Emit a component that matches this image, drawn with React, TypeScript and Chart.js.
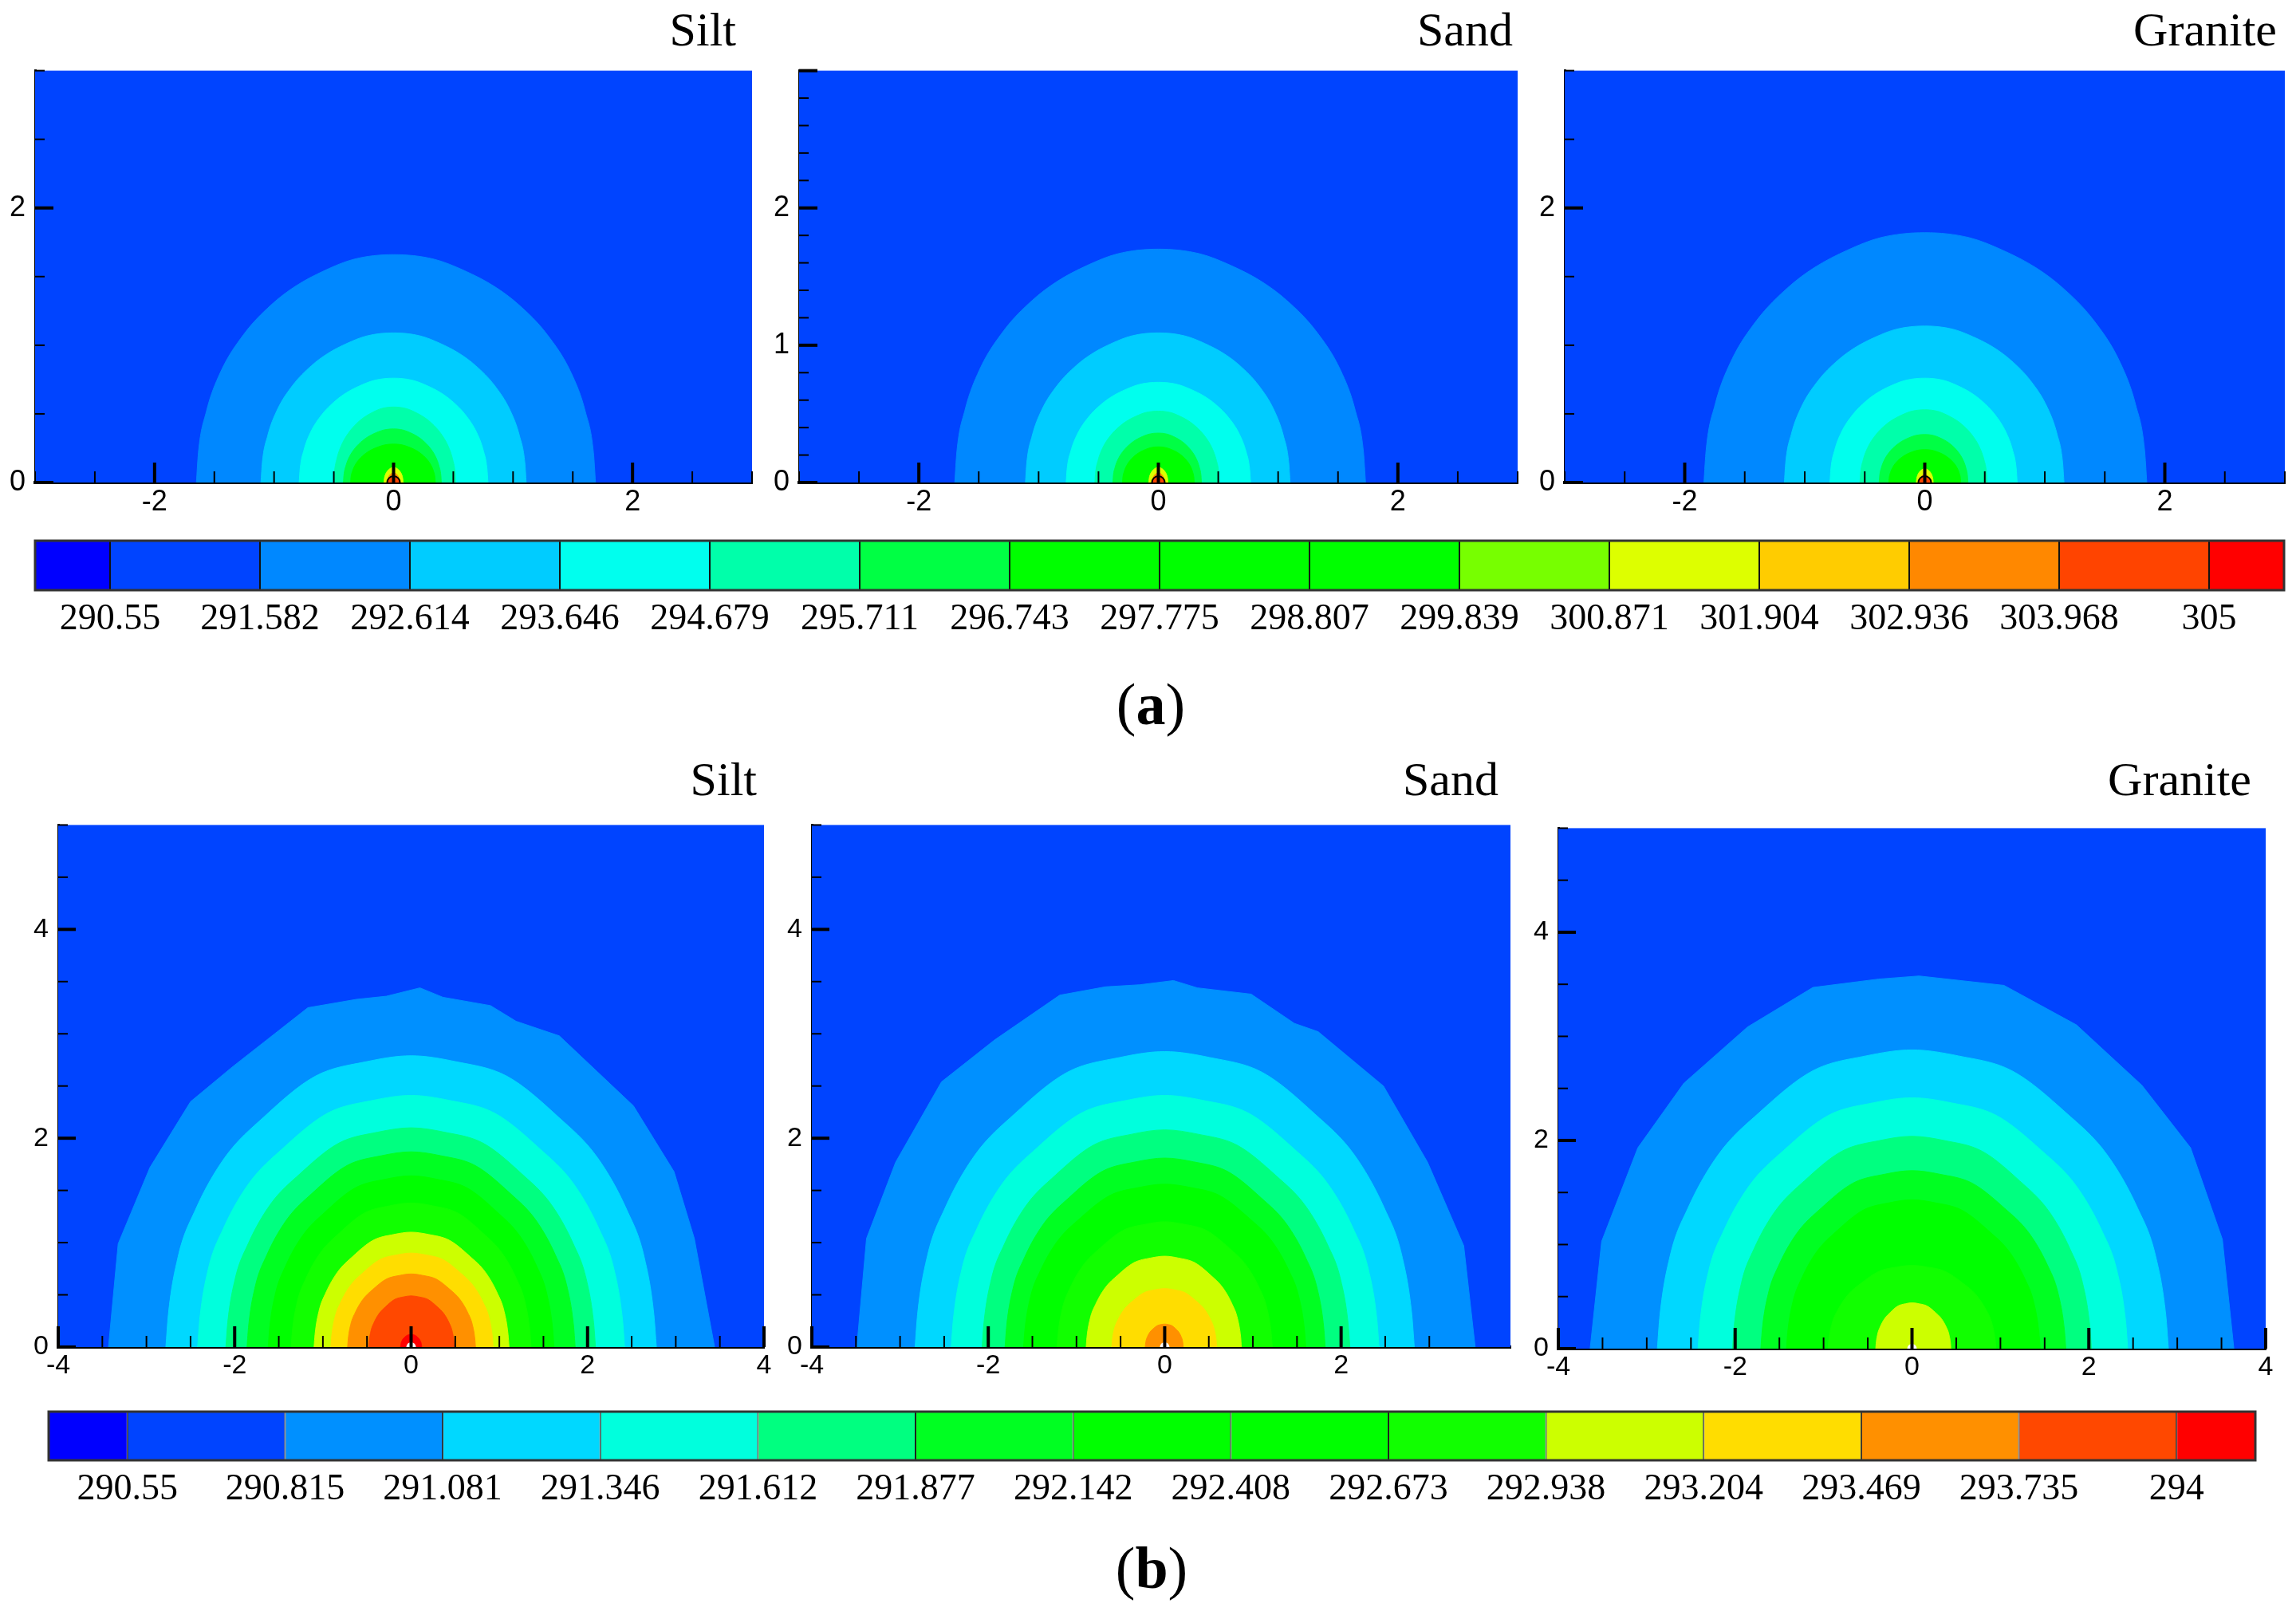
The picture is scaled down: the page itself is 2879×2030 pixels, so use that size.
import React, { useEffect, useRef } from 'react';
import { Chart, registerables } from 'chart.js';

Chart.register(...registerables);

// ---------------- colour scales (legend) ----------------
const coloursA = ['#0000ff', '#0044ff', '#0088ff', '#00ccff', '#00ffee', '#00ffaa', '#00ff44', '#00ff00', '#00ff00', '#00ff00', '#77ff00', '#ddff00', '#ffcc00', '#ff8800', '#ff4400', '#ff0000'];
const levelLabelsA = ['290.55', '291.582', '292.614', '293.646', '294.679', '295.711', '296.743', '297.775', '298.807', '299.839', '300.871', '301.904', '302.936', '303.968', '305'];
const coloursB = ['#0000ff', '#0044ff', '#0090ff', '#00d8ff', '#00ffdd', '#00ff80', '#00ff22', '#00ff00', '#00ff00', '#11ff00', '#ccff00', '#ffdd00', '#ff9000', '#ff4800', '#ff0000'];
const levelLabelsB = ['290.55', '290.815', '291.081', '291.346', '291.612', '291.877', '292.142', '292.408', '292.673', '292.938', '293.204', '293.469', '293.735', '294'];

// ---------------- dome outline shapes (normalised) ----------------
const domeTopX = [-1, -0.99, -0.95, -0.88, -0.76, -0.62, -0.5, -0.35, -0.2, 0, 0.2, 0.35, 0.5, 0.62, 0.76, 0.88, 0.95, 0.99, 1];
const domeTopY = [0, 0.13, 0.31, 0.48, 0.65, 0.78, 0.86, 0.93, 0.98, 1, 0.98, 0.93, 0.86, 0.78, 0.65, 0.48, 0.31, 0.13, 0];
const domeBotX = [-1, -0.99, -0.95, -0.88, -0.76, -0.6, -0.39, -0.18, 0, 0.18, 0.39, 0.6, 0.76, 0.88, 0.95, 0.99, 1];
const domeBotY = [0, 0.11, 0.31, 0.47, 0.65, 0.79, 0.93, 0.98, 1, 0.98, 0.93, 0.79, 0.65, 0.47, 0.31, 0.11, 0];

// ---------------- contour bands: [colour index, left foot x, right foot x, crest height] ----------------
const topSilt = [[2, -1.65, 1.69, 1.66], [3, -1.11, 1.11, 1.09], [4, -0.79, 0.79, 0.76], [5, -0.5, 0.52, 0.55], [6, -0.42, 0.4, 0.39], [7, -0.36, 0.35, 0.28], [11, -0.08, 0.08, 0.11], [13, -0.05, 0.05, 0.07]];
const topSand = [[2, -1.7, 1.73, 1.7], [3, -1.11, 1.1, 1.09], [4, -0.77, 0.77, 0.73], [5, -0.53, 0.51, 0.52], [6, -0.38, 0.36, 0.36], [7, -0.3, 0.3, 0.26], [11, -0.08, 0.08, 0.11], [13, -0.05, 0.05, 0.07]];
const topGranite = [[2, -1.84, 1.85, 1.82], [3, -1.17, 1.16, 1.14], [4, -0.79, 0.77, 0.76], [5, -0.54, 0.52, 0.53], [6, -0.38, 0.36, 0.35], [7, -0.3, 0.3, 0.24], [11, -0.07, 0.07, 0.1], [13, -0.04, 0.04, 0.06]];

const botSilt = [[3, -2.78, 2.78, 2.79], [4, -2.42, 2.42, 2.41], [5, -2.1, 2.09, 2.1], [6, -1.86, 1.86, 1.87], [7, -1.62, 1.62, 1.64], [9, -1.36, 1.36, 1.38], [10, -1.1, 1.11, 1.1], [11, -0.91, 0.93, 0.9], [12, -0.72, 0.73, 0.7], [13, -0.48, 0.49, 0.49], [14, -0.12, 0.12, 0.12]];
const botSand = [[3, -2.83, 2.83, 2.83], [4, -2.42, 2.43, 2.41], [5, -2.07, 2.1, 2.08], [6, -1.81, 1.82, 1.81], [7, -1.6, 1.6, 1.56], [9, -1.22, 1.22, 1.2], [10, -0.89, 0.87, 0.87], [11, -0.6, 0.59, 0.56], [12, -0.22, 0.21, 0.22]];
const botGranite = [[3, -2.88, 2.9, 2.87], [4, -2.42, 2.44, 2.41], [5, -2.03, 2.03, 2.04], [6, -1.71, 1.74, 1.71], [7, -1.42, 1.45, 1.43], [9, -0.95, 0.95, 0.8], [10, -0.41, 0.44, 0.44]];

// outermost (jagged) contour of panel (b), traced point by point
const outerSiltB = [[-3.43, 0], [-3.32, 0.99], [-2.96, 1.72], [-2.5, 2.35], [-2.03, 2.68], [-1.17, 3.25], [-0.62, 3.33], [-0.28, 3.36], [0.1, 3.44], [0.36, 3.35], [0.9, 3.27], [1.19, 3.12], [1.68, 2.98], [2.52, 2.31], [2.98, 1.68], [3.21, 1.04], [3.44, 0]];
const outerSandB = [[-3.49, 0], [-3.38, 1.04], [-3.05, 1.77], [-2.53, 2.54], [-1.93, 2.94], [-1.19, 3.37], [-0.67, 3.45], [-0.28, 3.47], [0.1, 3.51], [0.37, 3.44], [0.98, 3.38], [1.47, 3.1], [1.74, 3.02], [2.48, 2.5], [2.98, 1.77], [3.39, 0.97], [3.52, 0]];
const outerGraniteB = [[-3.64, 0], [-3.51, 1.03], [-3.1, 1.93], [-2.58, 2.55], [-1.86, 3.09], [-1.12, 3.47], [-0.38, 3.55], [0.08, 3.58], [1.04, 3.49], [1.86, 3.11], [2.6, 2.53], [3.15, 1.93], [3.51, 1.05], [3.64, 0]];

const PANEL_BG = '#0044ff';
const FONT_TICK = "'Liberation Sans Narrow', 'Liberation Sans', Arial, sans-serif";
const FONT_SERIF = "'Liberation Serif', 'Times New Roman', serif";

function isMult(v: number, step: number) {
  const r = v / step;
  return Math.abs(r - Math.round(r)) < 1e-6;
}

interface PanelDef {
  key: string; title: string;
  left: number; right: number; top: number; bottom: number;
  titleRight: number; titleBaseline: number;
  xMin: number; xMax: number; yMax: number;
  xMajor: number; xMinor: number; yMajor: number; yMinor: number;
  tick: { xMaj: number; xMin: number; yMaj: number; yMin: number };
  contours: number[][]; outer?: number[][]; outerColour?: number;
  profX: number[]; profY: number[]; palette: string[];
  marker: { r: number; fill: string; border: string; bw: number };
  fontSize: number;
}

const panels: PanelDef[] = [
  { key: 'a1', title: 'Silt', left: 44, right: 943, top: 79, bottom: 605, titleRight: 923, titleBaseline: 57, xMin: -3, xMax: 3, yMax: 3, xMajor: 2, xMinor: 0.5, yMajor: 2, yMinor: 0.5, tick: { xMaj: 25, xMin: 14, yMaj: 23, yMin: 12 }, contours: topSilt, profX: domeTopX, profY: domeTopY, palette: coloursA, marker: { r: 8, fill: '#ff4400', border: '#000', bw: 2 }, fontSize: 36 },
  { key: 'a2', title: 'Sand', left: 1002, right: 1903, top: 79, bottom: 605, titleRight: 1897, titleBaseline: 57, xMin: -3, xMax: 3, yMax: 3, xMajor: 2, xMinor: 0.5, yMajor: 1, yMinor: 0.2, tick: { xMaj: 25, xMin: 14, yMaj: 23, yMin: 12 }, contours: topSand, profX: domeTopX, profY: domeTopY, palette: coloursA, marker: { r: 8, fill: '#ff4400', border: '#000', bw: 2 }, fontSize: 36 },
  { key: 'a3', title: 'Granite', left: 1962, right: 2865, top: 79, bottom: 605, titleRight: 2855, titleBaseline: 57, xMin: -3, xMax: 3, yMax: 3, xMajor: 2, xMinor: 0.5, yMajor: 2, yMinor: 0.5, tick: { xMaj: 25, xMin: 14, yMaj: 23, yMin: 12 }, contours: topGranite, profX: domeTopX, profY: domeTopY, palette: coloursA, marker: { r: 8, fill: '#ff4400', border: '#000', bw: 2 }, fontSize: 36 },
  { key: 'b1', title: 'Silt', left: 73, right: 958, top: 1026, bottom: 1689, titleRight: 949, titleBaseline: 997, xMin: -4, xMax: 4, yMax: 5, xMajor: 2, xMinor: 0.5, yMajor: 2, yMinor: 0.5, tick: { xMaj: 26, xMin: 14, yMaj: 22, yMin: 12 }, contours: botSilt, outer: outerSiltB, outerColour: 2, profX: domeBotX, profY: domeBotY, palette: coloursB, marker: { r: 6, fill: '#ffffff', border: '#ffffff', bw: 0 }, fontSize: 34 },
  { key: 'b2', title: 'Sand', left: 1018, right: 1894, top: 1026, bottom: 1689, titleRight: 1879, titleBaseline: 997, xMin: -4, xMax: 3.92, yMax: 5, xMajor: 2, xMinor: 0.5, yMajor: 2, yMinor: 0.5, tick: { xMaj: 26, xMin: 14, yMaj: 22, yMin: 12 }, contours: botSand, outer: outerSandB, outerColour: 2, profX: domeBotX, profY: domeBotY, palette: coloursB, marker: { r: 6, fill: '#ffffff', border: '#ffffff', bw: 0 }, fontSize: 34 },
  { key: 'b3', title: 'Granite', left: 1954, right: 2841, top: 1030, bottom: 1691, titleRight: 2823, titleBaseline: 997, xMin: -4, xMax: 4, yMax: 5, xMajor: 2, xMinor: 0.5, yMajor: 2, yMinor: 0.5, tick: { xMaj: 26, xMin: 14, yMaj: 22, yMin: 12 }, contours: botGranite, outer: outerGraniteB, outerColour: 2, profX: domeBotX, profY: domeBotY, palette: coloursB, marker: { r: 6, fill: '#ffffff', border: '#ffffff', bw: 0 }, fontSize: 34 },
];

const plotBg = {
  id: 'plotBg',
  beforeDatasetsDraw(chart: any) {
    const { ctx, chartArea } = chart;
    ctx.save();
    ctx.fillStyle = PANEL_BG;
    ctx.fillRect(chartArea.left, chartArea.top, chartArea.right - chartArea.left, chartArea.bottom - chartArea.top);
    ctx.restore();
  },
};

function makeInnerTicks(p: PanelDef) {
  return {
    id: 'innerTicks',
    afterDraw(chart: any) {
      const { ctx, chartArea } = chart;
      ctx.save();
      ctx.strokeStyle = '#000';
      const axes: [string, number, number, number, number][] = [
        ['x', p.xMinor, p.xMajor, p.tick.xMaj, p.tick.xMin],
        ['y', p.yMinor, p.yMajor, p.tick.yMaj, p.tick.yMin],
      ];
      axes.forEach(([id, minor, major, lMaj, lMin]) => {
        const s = chart.scales[id];
        s.ticks.forEach((t: any) => {
          const v = t.value;
          if (!isMult(v, minor)) return;
          const isMaj = isMult(v, major);
          ctx.lineWidth = isMaj ? 4 : 2;
          const len = isMaj ? lMaj : lMin;
          const px = s.getPixelForValue(v);
          ctx.beginPath();
          if (id === 'x') {
            ctx.moveTo(px, chartArea.bottom);
            ctx.lineTo(px, chartArea.bottom - len);
          } else {
            ctx.moveTo(chartArea.left, px);
            ctx.lineTo(chartArea.left + len, px);
          }
          ctx.stroke();
        });
      });
      ctx.restore();
    },
  };
}

const YW = 44, PT = 24, PR = 30, XH = 50;

function PanelChart({ p }: { p: PanelDef }) {
  const ref = useRef<HTMLCanvasElement>(null);
  const w = YW + (p.right - p.left) + PR;
  const h = PT + (p.bottom - p.top) + XH;
  useEffect(() => {
    const pal = p.palette;
    const datasets: any[] = [];
    let ord = 1000;
    if (p.outer) {
      const col = pal[p.outerColour as number];
      datasets.push({
        type: 'line', data: p.outer.map(([x, y]) => ({ x, y })),
        backgroundColor: col, borderColor: col, borderWidth: 1, pointRadius: 0,
        fill: 'origin', tension: 0, order: ord--,
      });
    }
    p.contours.forEach(([c, lf, rf, crest]) => {
      datasets.push({
        type: 'line',
        data: p.profX.map((f, i) => ({ x: f < 0 ? -f * lf : f * rf, y: p.profY[i] * crest })),
        backgroundColor: pal[c], borderColor: pal[c], borderWidth: 1, pointRadius: 0,
        fill: 'origin', cubicInterpolationMode: 'monotone', order: ord--,
      });
    });
    datasets.push({
      type: 'scatter', data: [{ x: 0, y: 0 }],
      pointRadius: p.marker.r, pointBackgroundColor: p.marker.fill,
      pointBorderColor: p.marker.border, pointBorderWidth: p.marker.bw, order: 0,
    });
    const tickFont = { family: FONT_TICK, size: p.fontSize };
    const chart = new Chart(ref.current as HTMLCanvasElement, {
      type: 'line',
      data: { datasets },
      options: {
        animation: false,
        responsive: false,
        events: [],
        layout: { padding: { top: PT, right: PR, left: 0, bottom: 0 } },
        plugins: { legend: { display: false }, tooltip: { enabled: false } },
        scales: {
          x: {
            type: 'linear', min: p.xMin, max: p.xMax, z: 1,
            afterFit: (s: any) => { s.height = XH; },
            grid: { display: false, drawTicks: false },
            border: { display: true, color: '#000', width: 4 },
            ticks: {
              stepSize: p.xMinor, autoSkip: false, maxRotation: 0, padding: 3, color: '#000', font: tickFont,
              callback: (v: any) => (isMult(Number(v), p.xMajor) ? String(Math.round(Number(v))) : ''),
            },
          },
          y: {
            type: 'linear', min: 0, max: p.yMax, z: 1,
            afterFit: (s: any) => { s.width = YW; },
            grid: { display: false, drawTicks: false },
            border: { display: true, color: '#000', width: 3 },
            ticks: {
              stepSize: p.yMinor, autoSkip: false, padding: 12, color: '#000', font: tickFont,
              callback: (v: any) => (isMult(Number(v), p.yMajor) && Number(v) < p.yMax - 1e-6 ? String(Math.round(Number(v))) : ''),
            },
          },
        },
      } as any,
      plugins: [plotBg, makeInnerTicks(p)],
    });
    return () => chart.destroy();
  }, []);
  return (
    <canvas
      ref={ref}
      width={w}
      height={h}
      style={{ position: 'absolute', left: p.left - YW, top: p.top - PT, width: w, height: h }}
    />
  );
}

const barFrame = {
  id: 'barFrame',
  afterDatasetsDraw(chart: any) {
    const { ctx, chartArea } = chart;
    ctx.save();
    ctx.strokeStyle = '#333';
    ctx.lineWidth = 3;
    ctx.strokeRect(chartArea.left, chartArea.top, chartArea.right - chartArea.left, chartArea.bottom - chartArea.top);
    ctx.restore();
  },
};

function ColourBar({ left, right, top, bottom, colours, labels }: { left: number; right: number; top: number; bottom: number; colours: string[]; labels: string[] }) {
  const ref = useRef<HTMLCanvasElement>(null);
  const PL = 20, PRR = 20, PTT = 10, XHH = 76;
  const w = PL + (right - left) + PRR;
  const h = PTT + (bottom - top) + XHH;
  useEffect(() => {
    const n = labels.length;
    const data = colours.map((_, i) => ({ x: [i === 0 ? -0.5 : i - 1, i === colours.length - 1 ? n - 0.5 : i], y: 'bar' }));
    const chart = new Chart(ref.current as HTMLCanvasElement, {
      type: 'bar',
      data: {
        labels: ['bar'],
        datasets: [{
          data: data as any,
          backgroundColor: colours,
          borderColor: '#111',
          borderWidth: 1,
          borderSkipped: false,
          barPercentage: 1,
          categoryPercentage: 1,
          inflateAmount: 0,
        } as any],
      },
      options: {
        indexAxis: 'y',
        animation: false,
        responsive: false,
        events: [],
        layout: { padding: { top: PTT, left: PL, right: PRR, bottom: 0 } },
        plugins: { legend: { display: false }, tooltip: { enabled: false } },
        scales: {
          x: {
            type: 'linear', min: -0.5, max: n - 0.5,
            afterFit: (s: any) => { s.height = XHH; },
            afterBuildTicks: (s: any) => { s.ticks = labels.map((_, i) => ({ value: i })); },
            grid: { display: false, drawTicks: false },
            border: { display: false },
            ticks: {
              autoSkip: false, maxRotation: 0, padding: 9, color: '#000',
              font: { family: FONT_SERIF, size: 46 },
              callback: (v: any) => labels[Math.round(Number(v))] ?? '',
            },
          },
          y: { display: false },
        },
      } as any,
      plugins: [barFrame],
    });
    return () => chart.destroy();
  }, []);
  return (
    <canvas
      ref={ref}
      width={w}
      height={h}
      style={{ position: 'absolute', left: left - PL, top: top - PTT, width: w, height: h }}
    />
  );
}

export default function App() {
  useEffect(() => {
    document.body.style.margin = '0';
    document.body.style.overflow = 'hidden';
  }, []);
  const titleSize = 60;
  return (
    <div style={{ position: 'absolute', left: 0, top: 0, width: 2879, height: 2030, background: '#fff', overflow: 'hidden' }}>
      {panels.map((p) => (
        <PanelChart key={p.key} p={p} />
      ))}
      {panels.map((p) => (
        <div
          key={'t' + p.key}
          style={{
            position: 'absolute', left: p.titleRight - 400, width: 400, top: p.titleBaseline - 0.8375 * titleSize,
            textAlign: 'right', fontFamily: FONT_SERIF, fontSize: titleSize, lineHeight: 1, color: '#000',
          }}
        >
          {p.title}
        </div>
      ))}
      <ColourBar left={44} right={2864} top={678} bottom={740} colours={coloursA} labels={levelLabelsA} />
      <ColourBar left={61} right={2828} top={1770} bottom={1831} colours={coloursB} labels={levelLabelsB} />
      <div style={{ position: 'absolute', left: 1343, width: 200, top: 846, textAlign: 'center', fontFamily: FONT_SERIF, fontSize: 74, lineHeight: 1, color: '#000' }}>
        (<b>a</b>)
      </div>
      <div style={{ position: 'absolute', left: 1344, width: 200, top: 1929, textAlign: 'center', fontFamily: FONT_SERIF, fontSize: 74, lineHeight: 1, color: '#000' }}>
        (<b>b</b>)
      </div>
    </div>
  );
}
